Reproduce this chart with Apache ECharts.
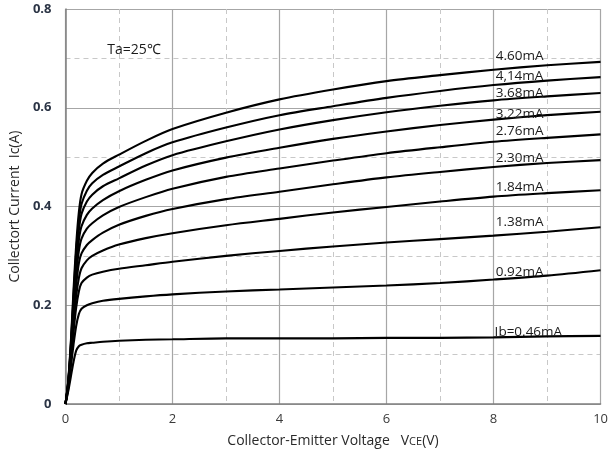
<!DOCTYPE html>
<html>
<head>
<meta charset="utf-8">
<script src="https://cdn.jsdelivr.net/npm/echarts@6/dist/echarts.min.js"></script>
<style>
  html, body { margin: 0; padding: 0; background: #ffffff; }
  #chart { width: 611px; height: 455px; }
</style>
</head>
<body>
<div id="chart"></div>
<script>
// Collector-emitter voltage sample points (V)
const vce = [0, 0.05, 0.1, 0.15, 0.2, 0.25, 0.3, 0.4, 0.5, 0.7, 1, 1.5, 2, 3, 4, 5, 6, 7, 8, 9, 10];

// Collector current (A) for each base current step
const ic046 = [0, 0.025, 0.055, 0.085, 0.108, 0.117, 0.120, 0.123, 0.124, 0.126, 0.128, 0.130, 0.131, 0.133, 0.133, 0.133, 0.134, 0.134, 0.135, 0.137, 0.138];
const ic092 = [0, 0.030, 0.075, 0.120, 0.158, 0.182, 0.193, 0.200, 0.204, 0.209, 0.213, 0.218, 0.222, 0.228, 0.232, 0.236, 0.240, 0.245, 0.252, 0.260, 0.271];
const ic138 = [0, 0.035, 0.085, 0.145, 0.195, 0.228, 0.245, 0.256, 0.262, 0.268, 0.274, 0.281, 0.288, 0.300, 0.310, 0.319, 0.327, 0.334, 0.341, 0.349, 0.358];
const ic184 = [0, 0.037, 0.095, 0.160, 0.218, 0.255, 0.275, 0.291, 0.300, 0.311, 0.323, 0.336, 0.346, 0.362, 0.375, 0.388, 0.399, 0.410, 0.420, 0.427, 0.433];
const ic230 = [0, 0.039, 0.100, 0.175, 0.240, 0.285, 0.305, 0.322, 0.332, 0.347, 0.363, 0.381, 0.395, 0.415, 0.430, 0.445, 0.459, 0.470, 0.480, 0.488, 0.494];
const ic276 = [0, 0.040, 0.105, 0.188, 0.260, 0.310, 0.335, 0.355, 0.366, 0.382, 0.399, 0.419, 0.436, 0.460, 0.477, 0.493, 0.508, 0.520, 0.531, 0.539, 0.546];
const ic322 = [0, 0.042, 0.110, 0.198, 0.278, 0.332, 0.360, 0.383, 0.396, 0.413, 0.431, 0.454, 0.473, 0.499, 0.519, 0.537, 0.552, 0.565, 0.576, 0.585, 0.592];
const ic368 = [0, 0.043, 0.115, 0.208, 0.293, 0.352, 0.385, 0.410, 0.424, 0.441, 0.457, 0.483, 0.504, 0.532, 0.556, 0.575, 0.591, 0.604, 0.615, 0.623, 0.630];
const ic414 = [0, 0.044, 0.120, 0.218, 0.308, 0.370, 0.405, 0.432, 0.447, 0.464, 0.481, 0.508, 0.530, 0.560, 0.585, 0.603, 0.620, 0.634, 0.646, 0.655, 0.662];
const ic460 = [0, 0.045, 0.125, 0.230, 0.322, 0.388, 0.425, 0.452, 0.468, 0.487, 0.505, 0.533, 0.557, 0.590, 0.617, 0.637, 0.654, 0.666, 0.677, 0.686, 0.693];

const curves = [ic046, ic092, ic138, ic184, ic230, ic276, ic322, ic368, ic414, ic460];
const curveNames = ['Ib=0.46mA', '0.92mA', '1.38mA', '1.84mA', '2.30mA', '2.76mA', '3.22mA', '3.68mA', '4,14mA', '4.60mA'];

// Axis ticks
const xTicks = [0, 2, 4, 6, 8, 10];
const yTicks = [0, 0.2, 0.4, 0.6, 0.8];

// Where each curve's name sits, in axis units [V, A]
const nameAnchors = [
  [8.02, 0.145], [8.04, 0.268], [8.04, 0.368], [8.04, 0.439], [8.04, 0.497],
  [8.04, 0.552], [8.04, 0.587], [8.04, 0.630], [8.04, 0.663], [8.04, 0.705]
];
const tempNote = 'Ta=25℃';
const tempAnchor = [0.78, 0.716];

const FONT = 'Open Sans';

const series = curves.map((ys, i) => ({
  name: curveNames[i],
  type: 'line',
  data: vce.map((v, k) => [v, ys[k]]),
  showSymbol: false,
  smooth: 0.3,
  lineStyle: { color: '#000000', width: 2.1 },
  silent: true,
  z: 3,
  markPoint: {
    symbol: 'circle',
    symbolSize: 0,
    silent: true,
    label: {
      show: true,
      position: 'right',
      distance: 0,
      formatter: curveNames[i],
      color: '#1a1a1a',
      fontFamily: FONT,
      fontSize: 13.5
    },
    data: [{ coord: nameAnchors[i] }]
  }
}));

series.push({
  type: 'line',
  data: [],
  markPoint: {
    symbol: 'circle',
    symbolSize: 0,
    silent: true,
    label: {
      show: true,
      position: 'right',
      distance: 0,
      formatter: tempNote,
      color: '#1a1a1a',
      fontFamily: FONT,
      fontSize: 14
    },
    data: [{ coord: tempAnchor }]
  }
});

const chart = echarts.init(document.getElementById('chart'), null, { renderer: 'canvas' });
chart.setOption({
  animation: false,
  backgroundColor: '#ffffff',
  grid: { left: 62, right: 9, top: 9, bottom: 51, containLabel: false },
  xAxis: {
    type: 'value',
    min: xTicks[0],
    max: xTicks[xTicks.length - 1],
    interval: xTicks[1] - xTicks[0],
    name: '{a|Collector-Emitter Voltage   V}{b|CE}{a|(V)}',
    nameLocation: 'middle',
    nameGap: 30,
    nameTextStyle: {
      rich: {
        a: { fontFamily: FONT, fontSize: 14, color: '#2a2a2a' },
        b: { fontFamily: FONT, fontSize: 11, color: '#2a2a2a', padding: [2, 0, 0, 0] }
      }
    },
    axisLine: { show: true, lineStyle: { color: '#808080', width: 1.5 } },
    axisTick: { show: false },
    axisLabel: { color: '#3a3a3a', fontFamily: FONT, fontSize: 13, margin: 9 },
    splitLine: { show: true, lineStyle: { color: '#a6a6a6', width: 1.2 } },
    minorTick: { show: false, splitNumber: 2 },
    minorSplitLine: { show: true, lineStyle: { color: '#c8c8c8', width: 1, type: [5, 4] } }
  },
  yAxis: {
    type: 'value',
    min: yTicks[0],
    max: yTicks[yTicks.length - 1],
    interval: yTicks[1] - yTicks[0],
    name: 'Collectort Current  Ic(A)',
    nameLocation: 'middle',
    nameGap: 40,
    nameTextStyle: { fontFamily: FONT, fontSize: 14, color: '#2a2a2a' },
    axisLine: { show: true, lineStyle: { color: '#808080', width: 1.5 } },
    axisTick: { show: false },
    axisLabel: { color: '#2b3445', fontFamily: FONT, fontSize: 13, fontWeight: 'bold', margin: 14 },
    splitLine: { show: true, lineStyle: { color: '#a6a6a6', width: 1.2 } },
    minorTick: { show: false, splitNumber: 2 },
    minorSplitLine: { show: true, lineStyle: { color: '#c8c8c8', width: 1, type: [5, 4] } }
  },
  series: series
});
</script>
</body>
</html>
